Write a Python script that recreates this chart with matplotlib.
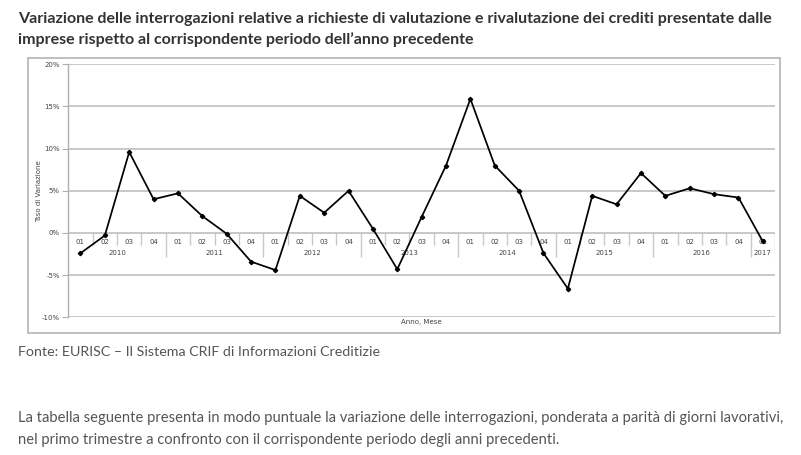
import matplotlib.pyplot as plt
import matplotlib.transforms as transforms
from matplotlib.patches import Rectangle
import matplotlib.ticker as ticker

# quarterly change, % vs same period of previous year
years = ["2010", "2011", "2012", "2013", "2014", "2015", "2016", "2017"]
quarters = ["01", "02", "03", "04"]
n_quarters = [4, 4, 4, 4, 4, 4, 4, 1]
values = [
    -2.4, -0.3, 9.6, 4.0,
    4.7, 2.0, -0.1, -3.4,
    -4.4, 4.4, 2.4, 5.0,
    0.5, -4.3, 1.9, 8.0,
    15.9, 8.0, 5.0, -2.4,
    -6.6, 4.4, 3.4, 7.1,
    4.4, 5.3, 4.6, 4.2,
    -1.0,
]
y_ticks = [-10, -5, 0, 5, 10, 15, 20]

title_lines = [
    "Variazione delle interrogazioni relative a richieste di valutazione e rivalutazione dei crediti presentate dalle",
    "imprese rispetto al corrispondente periodo dell\u2019anno precedente",
]
source = "Fonte: EURISC \u2013 Il Sistema CRIF di Informazioni Creditizie"
para_lines = [
    "La tabella seguente presenta in modo puntuale la variazione delle interrogazioni, ponderata a parit\u00e0 di giorni lavorativi,",
    "nel primo trimestre a confronto con il corrispondente periodo degli anni precedenti.",
]

FONT = ["Lato", "DejaVu Sans"]
W, H = 801, 455

fig = plt.figure(figsize=(W / 100, H / 100), dpi=100)


def fx(px):
    return px / W


def fy(py):
    return 1 - py / H


def text_block(lines, ys, target_width, **kw):
    # shrink the font so the first line spans target_width pixels
    texts = [fig.text(fx(18), fy(y), s, family=FONT, fontsize=10, va="center",
                      ha="left", **kw) for s, y in zip(lines, ys)]
    renderer = fig.canvas.get_renderer()
    w = texts[0].get_window_extent(renderer).width
    for t in texts:
        t.set_fontsize(10 * target_width / w)
    return texts


text_block(title_lines, [19, 40], 757, fontweight="bold", color="#333333")
text_block([source], [352], 362, color="#555555")
text_block(para_lines, [418, 440], 764, color="#555555")

# chart frame
fig.patches.append(Rectangle((fx(28), fy(333)), fx(780) - fx(28), fy(58) - fy(333),
                             transform=fig.transFigure, fill=False,
                             edgecolor="#b4b4b4", linewidth=1.2))

left, right, top, bottom = 68.3, 775, 64.3, 317.3
ax = fig.add_axes([fx(left), fy(bottom), fx(right) - fx(left), fy(top) - fy(bottom)])

x = list(range(len(values)))
ax.plot(x, values, color="black", linewidth=1.25, marker="D", markersize=2.2, zorder=5)

ax.set_xlim(-0.5, len(values) - 0.5)
ax.set_ylim(-10, 20)
ax.set_yticks(y_ticks)
ax.yaxis.set_major_formatter(ticker.FuncFormatter(lambda v, p: f"{v:.0f}%"))
ax.tick_params(axis="y", labelsize=5, colors="#444444", length=4, width=0.8,
               color="#b0b0b0", pad=2)
ax.set_xticks([])
ax.grid(axis="y", color="#c4c4c4", linewidth=1.3)
ax.set_axisbelow(True)
for side in ["top", "right", "bottom"]:
    ax.spines[side].set_visible(False)
ax.spines["left"].set_color("#b0b0b0")
ax.spines["left"].set_linewidth(1.0)

ax.set_ylabel("Tsso di Variazione", fontsize=5, color="#444444")
ax.yaxis.set_label_coords(-0.037, 0.5)
ax.set_xlabel("Anno, Mese", fontsize=5, color="#444444", labelpad=1)

# two-level category axis drawn at the zero line
trans = transforms.blended_transform_factory(ax.transData, ax.transData)
pos = 0
for year, n in zip(years, n_quarters):
    for k in range(n):
        ax.text(pos + k, -1.07, quarters[k], fontsize=5, color="#444444",
                ha="center", va="center", transform=trans)
        if k < n - 1:
            ax.vlines(pos + k + 0.5, -1.45, 0, color="#c8c8c8", linewidth=1.0)
    ax.text(pos + (n - 1) / 2, -2.37, year, fontsize=5, color="#444444",
            ha="center", va="center", transform=trans)
    ax.vlines(pos + n - 0.5, -2.9, 0, color="#c8c8c8", linewidth=1.0)
    pos += n

fig.savefig("out.png", dpi=100)
